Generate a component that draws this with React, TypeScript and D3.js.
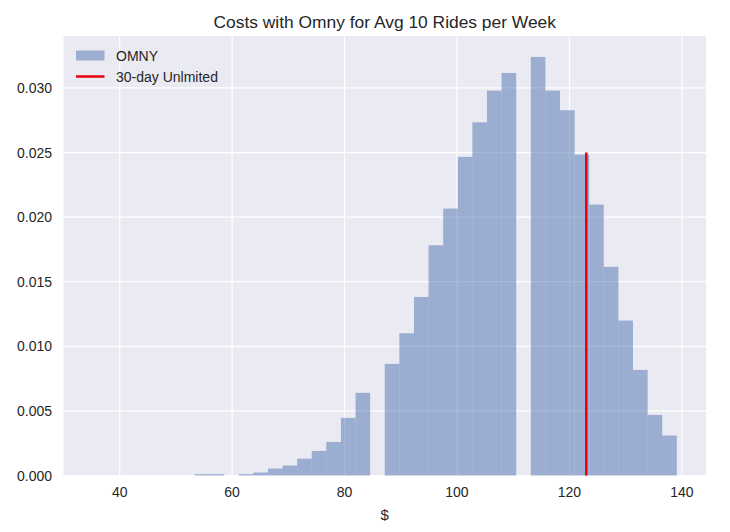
import * as d3 from 'd3'

// histogram bin edges ($) and density per bin
const binEdges = [
    35.2, 37.8, 40.4, 42.99, 45.59, 48.19, 50.79, 53.38, 55.98, 58.58, 61.18, 63.77, 66.37, 68.97,
    71.57, 74.16, 76.76, 79.36, 81.96, 84.55, 87.15, 89.75, 92.35, 94.94, 97.54, 100.14, 102.74,
    105.33, 107.93, 110.53, 113.13, 115.72, 118.32, 120.92, 123.52, 126.11, 128.71, 131.31, 133.91,
    136.5, 139.1
]
const density = [
    0, 0, 0, 0, 0, 0, 0, 0.0001, 0.0001, 0, 0.0001, 0.00023, 0.00054, 0.00077, 0.0013, 0.0019,
    0.0026, 0.00446, 0.0064, 0, 0.00864, 0.01101, 0.01382, 0.01782, 0.02066, 0.02466, 0.02734,
    0.02979, 0.03116, 0, 0.0324, 0.02979, 0.02827, 0.02484, 0.02097, 0.01615, 0.01199, 0.00817,
    0.00469, 0.00309
]
const unlimited = 123
const unlimitedTop = 0.025
const xTicks = [40, 60, 80, 100, 120, 140]
const yTicks = [0, 0.005, 0.01, 0.015, 0.02, 0.025, 0.03]
const title = 'Costs with Omny for Avg 10 Rides per Week'
const xLabel = '$'
const legendLabels = ['OMNY', '30-day Unlmited']

const W = 730
const H = 532
const m = { left: 63.5, right: 706, top: 36, bottom: 475.5 }
const font = 'Arial, "Liberation Sans", sans-serif'
const barColor = '#4C72B0'
const red = '#e8000b'

export default function App() {
    const span = binEdges[binEdges.length - 1] - binEdges[0]
    const x = d3
        .scaleLinear()
        .domain([binEdges[0] - 0.05 * span, binEdges[binEdges.length - 1] + 0.05 * span])
        .range([m.left, m.right])
    const y = d3
        .scaleLinear()
        .domain([0, d3.max(density) * 1.05])
        .range([m.bottom, m.top])

    const bins = density.map((d, i) => ({ x0: binEdges[i], x1: binEdges[i + 1], d }))

    return (
        <div style={{ position: 'absolute', left: 0, top: 0 }}>
            <svg width={W} height={H} style={{ display: 'block', background: '#fff' }}>
                <rect x={m.left} y={m.top} width={m.right - m.left} height={m.bottom - m.top} fill="#EAEAF2" />
                <g stroke="#fff" strokeWidth={1.2}>
                    {xTicks.map(t => (
                        <line key={'gx' + t} x1={x(t)} x2={x(t)} y1={m.top} y2={m.bottom} />
                    ))}
                    {yTicks.map(t => (
                        <line key={'gy' + t} x1={m.left} x2={m.right} y1={y(t)} y2={y(t)} />
                    ))}
                </g>
                <g fill={barColor} fillOpacity={0.5}>
                    {bins
                        .filter(b => b.d > 0)
                        .map((b, i) => (
                            <rect
                                key={i}
                                x={x(b.x0)}
                                width={x(b.x1) - x(b.x0)}
                                y={y(b.d)}
                                height={y(0) - y(b.d)}
                            />
                        ))}
                </g>
                <line
                    x1={x(unlimited)}
                    x2={x(unlimited)}
                    y1={y(0)}
                    y2={y(unlimitedTop)}
                    stroke={red}
                    strokeWidth={2.5}
                />
                <g fontFamily={font} fontSize={14} fill="#262626">
                    {xTicks.map(t => (
                        <text key={'tx' + t} x={x(t)} y={497} textAnchor="middle">
                            {t}
                        </text>
                    ))}
                    {yTicks.map(t => (
                        <text key={'ty' + t} x={52} y={y(t) + 5} textAnchor="end">
                            {d3.format('.3f')(t)}
                        </text>
                    ))}
                </g>
                <text x={(m.left + m.right) / 2} y={28} textAnchor="middle" fontFamily={font} fontSize={17.4} fill="#262626">
                    {title}
                </text>
                <text x={(m.left + m.right) / 2} y={520} textAnchor="middle" fontFamily={font} fontSize={15} fill="#262626">
                    {xLabel}
                </text>
                <g fontFamily={font} fontSize={14} fill="#262626">
                    <rect x={76} y={50.5} width={28.5} height={10} fill={barColor} fillOpacity={0.5} />
                    <text x={116} y={61}>
                        {legendLabels[0]}
                    </text>
                    <line x1={76} x2={104.5} y1={76.5} y2={76.5} stroke={red} strokeWidth={2.5} />
                    <text x={116} y={82}>
                        {legendLabels[1]}
                    </text>
                </g>
            </svg>
        </div>
    )
}
